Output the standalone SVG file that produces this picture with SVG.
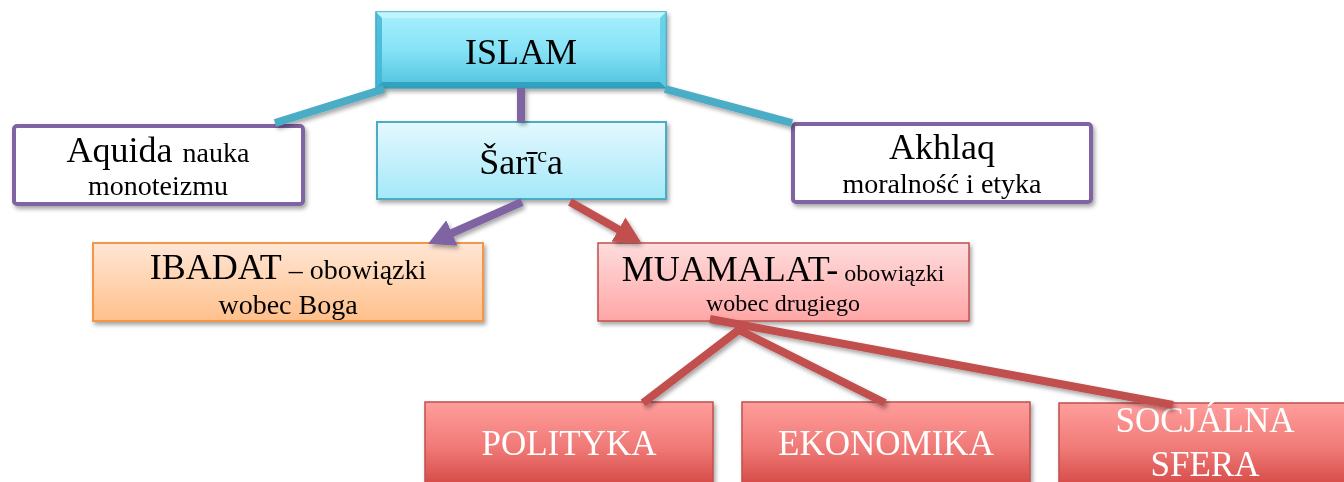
<svg xmlns="http://www.w3.org/2000/svg" width="1344" height="482" viewBox="0 0 1344 482">
<defs>
  <linearGradient id="gIslam" x1="0" y1="0" x2="0" y2="1">
    <stop offset="0" stop-color="#A8F1FD"/>
    <stop offset="0.5" stop-color="#86E2F6"/>
    <stop offset="1" stop-color="#4FC2DE"/>
  </linearGradient>
  <linearGradient id="gSaria" x1="0" y1="0" x2="0" y2="1">
    <stop offset="0" stop-color="#E4F9FE"/>
    <stop offset="1" stop-color="#A4E8F9"/>
  </linearGradient>
  <linearGradient id="gOrange" x1="0" y1="0" x2="0" y2="1">
    <stop offset="0" stop-color="#FFE6D5"/>
    <stop offset="1" stop-color="#FFC08B"/>
  </linearGradient>
  <linearGradient id="gPink" x1="0" y1="0" x2="0" y2="1">
    <stop offset="0" stop-color="#FFDCDC"/>
    <stop offset="1" stop-color="#FFA6A6"/>
  </linearGradient>
  <linearGradient id="gRed" x1="0" y1="0" x2="0" y2="1">
    <stop offset="0" stop-color="#FF9E9C"/>
    <stop offset="0.5" stop-color="#F07A77"/>
    <stop offset="1" stop-color="#D0413E"/>
  </linearGradient>
  <filter id="shadow" x="-10%" y="-10%" width="120%" height="130%">
    <feDropShadow dx="2" dy="3" stdDeviation="2" flood-color="#000" flood-opacity="0.35"/>
  </filter>
  <marker id="arrPurple" viewBox="0 0 26 28" refX="1" refY="14" markerWidth="26" markerHeight="28" markerUnits="userSpaceOnUse" orient="auto">
    <path d="M0,0 L26,14 L0,28 Z" fill="#8064A2"/>
  </marker>
  <marker id="arrRed" viewBox="0 0 26 28" refX="1" refY="14" markerWidth="26" markerHeight="28" markerUnits="userSpaceOnUse" orient="auto">
    <path d="M0,0 L26,14 L0,28 Z" fill="#C0504D"/>
  </marker>
</defs>
<style>
  text { font-family: "Liberation Serif", "Times New Roman", serif; text-anchor: middle; fill: #000; }
  .big { font-size: 36px; }
  .small { font-size: 28px; }
  .white { fill: #FFFFFF; font-size: 35px; }
  .purpleBox { fill: #FFFFFF; stroke: #8064A2; stroke-width: 4; }
  .conn { fill: none; stroke-width: 8; }
  .cyan { stroke: #4BACC6; }
  .purple { stroke: #8064A2; }
  .red { stroke: #C0504D; }
  .redBox { fill: url(#gRed); stroke: #C0504D; stroke-width: 1.5; }
</style>

<g id="islam" filter="url(#shadow)">
  <rect x="376" y="12" width="290" height="76" fill="url(#gIslam)" stroke="#3FA6C0" stroke-width="1.5"/>
  <polygon points="376,12 666,12 660,18 382,18" fill="#C6F7FE" opacity="0.8"/>
  <polygon points="376,12 382,18 382,82 376,88" fill="#3FB3D2" opacity="0.8"/>
  <polygon points="666,12 660,18 660,82 666,88" fill="#5CCBE5" opacity="0.8"/>
  <polygon points="376,88 382,82 660,82 666,88" fill="#2E9DBB" opacity="0.9"/>
  <text class="big" x="521" y="64">ISLAM</text>
</g>

<g id="aquida" filter="url(#shadow)">
  <rect class="purpleBox" x="14" y="126" width="289" height="78" rx="3"/>
  <text x="158" y="162"><tspan class="big">Aquida</tspan><tspan class="small" dx="10">nauka</tspan></text>
  <text class="small" x="158" y="195">monoteizmu</text>
</g>

<g id="saria" filter="url(#shadow)">
  <rect x="377" y="122" width="289" height="77" fill="url(#gSaria)" stroke="#4BACC6" stroke-width="2"/>
  <text class="big" x="521" y="174">Šarī<tspan font-size="22" dy="-12">c</tspan><tspan dy="12">a</tspan></text>
</g>

<g id="akhlaq" filter="url(#shadow)">
  <rect class="purpleBox" x="793" y="124" width="298" height="78" rx="3"/>
  <text class="big" x="942" y="159">Akhlaq</text>
  <text class="small" x="942" y="193">moralność i etyka</text>
</g>

<g id="ibadat" filter="url(#shadow)">
  <rect x="93" y="243" width="390" height="78" fill="url(#gOrange)" stroke="#F79646" stroke-width="2"/>
  <text x="288" y="279"><tspan class="big">IBADAT</tspan><tspan class="small"> – obowiązki</tspan></text>
  <text class="small" x="288" y="314">wobec Boga</text>
</g>

<g id="muamalat" filter="url(#shadow)">
  <rect x="598" y="243" width="371" height="78" fill="url(#gPink)" stroke="#C0504D" stroke-width="1.5"/>
  <text x="783" y="281"><tspan class="big">MUAMALAT-</tspan><tspan font-size="24"> obowiązki</tspan></text>
  <text font-size="24" x="783" y="311">wobec drugiego</text>
</g>

<g id="polityka" filter="url(#shadow)">
  <rect class="redBox" x="425" y="402" width="288" height="90"/>
  <text class="white" x="569" y="455">POLITYKA</text>
</g>

<g id="ekonomika" filter="url(#shadow)">
  <rect class="redBox" x="742" y="402" width="288" height="90"/>
  <text class="white" x="886" y="455">EKONOMIKA</text>
</g>

<g id="socjalna" filter="url(#shadow)">
  <rect class="redBox" x="1059" y="403" width="292" height="90"/>
  <text class="white" x="1205" y="432">SOCJÁLNA</text>
  <text class="white" x="1205" y="476">SFERA</text>
</g>

<g id="connectors" filter="url(#shadow)">
  <line class="conn cyan" x1="384" y1="89" x2="275" y2="123"/>
  <line class="conn cyan" x1="665" y1="89" x2="792" y2="123"/>
  <line class="conn purple" x1="521" y1="88" x2="521" y2="122"/>
  <line class="conn purple" x1="522" y1="202" x2="451" y2="233.5" marker-end="url(#arrPurple)"/>
  <line class="conn red" x1="570" y1="202" x2="619.4" y2="230.1" marker-end="url(#arrRed)"/>
  <line class="conn red" x1="740" y1="329" x2="643" y2="403"/>
  <line class="conn red" x1="735" y1="328" x2="885" y2="403"/>
  <line class="conn red" x1="710" y1="319" x2="1173" y2="405"/>
</g>
</svg>
